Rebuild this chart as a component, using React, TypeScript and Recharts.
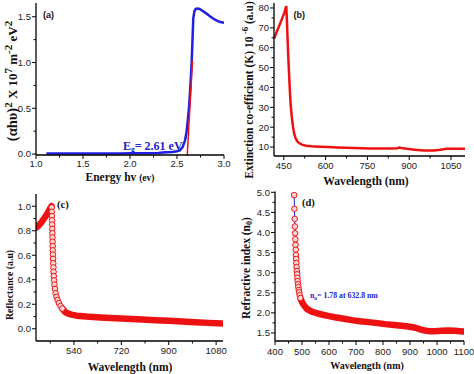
import React from 'react';
import { LineChart, Line, XAxis, YAxis } from 'recharts';

const RED = '#ee1111';
const BLUE = '#1f1fe6';
const NOTE = '#2424cc';
const SANS = '"Liberation Sans", Arial, sans-serif';
const SERIF = '"Liberation Serif", "Times New Roman", serif';

// (a) Tauc plot
const aEnergy = [1.11, 1.2, 1.3, 1.4, 1.5, 1.6, 1.7, 1.8, 1.9, 2.0, 2.1, 2.2, 2.3, 2.35, 2.4, 2.45, 2.5, 2.53, 2.56, 2.585, 2.6, 2.615, 2.627, 2.64, 2.656, 2.665, 2.673, 2.685, 2.7, 2.72, 2.74, 2.77, 2.8, 2.85, 2.9, 2.95, 3.0];
const aAbs = [0.006, 0.006, 0.006, 0.006, 0.006, 0.006, 0.006, 0.007, 0.007, 0.008, 0.009, 0.01, 0.012, 0.016, 0.02, 0.024, 0.03, 0.04, 0.075, 0.15, 0.23, 0.37, 0.5, 0.7, 1.0, 1.25, 1.48, 1.56, 1.585, 1.59, 1.585, 1.565, 1.545, 1.505, 1.47, 1.445, 1.435];
const aFitEnergy = [2.609, 2.665];
const aFitAbs = [-0.01, 1.02];
const aXTicks = [1, 1.25, 1.5, 1.75, 2, 2.25, 2.5, 2.75, 3];
const aXMajor = [1, 1.5, 2, 2.5, 3];
const aYTicks = [0, 0.25, 0.5, 0.75, 1, 1.25, 1.5];
const aYMajor = [0, 0.5, 1, 1.5];

// (b) extinction coefficient
const bWave = [415, 425, 435, 445, 452, 456, 459, 461, 463, 466, 469, 472, 475, 479, 483, 487, 492, 498, 505, 515, 530, 550, 581, 610, 641, 700, 760, 800, 840, 856, 864, 872, 892, 920, 952, 988, 1011, 1035, 1060, 1100];
const bExt = [64.5, 68, 71.5, 75, 77.5, 79.5, 81, 75, 67, 56, 47, 38, 31, 25, 20.5, 17, 14.5, 13, 12, 11.2, 10.7, 10.4, 10.2, 10, 9.8, 9.5, 9.3, 9.3, 9.3, 9.4, 9.8, 9.5, 9.1, 8.7, 8.3, 8.3, 8.7, 9.2, 9.2, 9.2];
const bXTicks = [450, 525, 600, 675, 750, 825, 900, 975, 1050];
const bXMajor = [450, 600, 750, 900, 1050];
const bYTicks = [10, 15, 20, 25, 30, 35, 40, 45, 50, 55, 60, 65, 70, 75, 80];
const bYMajor = [10, 20, 30, 40, 50, 60, 70, 80];

// (c) reflectance
const cRiseWave = [396, 405, 415, 425, 435, 442, 448, 452, 455];
const cRiseVal = [0.825, 0.84, 0.865, 0.895, 0.925, 0.95, 0.975, 0.99, 1.0];
const cDropWave = [455.5, 456, 456.5, 457, 457.4, 457.8, 458.2, 458.6, 459, 459.4, 459.8, 460.3, 460.8, 461.4, 462, 462.7, 463.5, 464.5, 466, 468, 470.5, 474, 478, 483, 489, 496];
const cDropVal = [0.99, 0.955, 0.92, 0.885, 0.85, 0.815, 0.78, 0.745, 0.71, 0.675, 0.64, 0.605, 0.57, 0.535, 0.5, 0.465, 0.43, 0.395, 0.36, 0.325, 0.29, 0.26, 0.235, 0.21, 0.185, 0.165];
const cTailWave = [496, 505, 515, 530, 550, 575, 600, 640, 680, 720, 760, 800, 850, 900, 950, 1000, 1050, 1106];
const cTailVal = [0.165, 0.14, 0.127, 0.115, 0.107, 0.102, 0.097, 0.092, 0.087, 0.083, 0.079, 0.075, 0.07, 0.065, 0.059, 0.054, 0.048, 0.043];
const cXTicks = [450, 540, 630, 720, 810, 900, 990, 1080];
const cXMajor = [540, 720, 900, 1080];
const cYTicks = [0, 0.1, 0.2, 0.3, 0.4, 0.5, 0.6, 0.7, 0.8, 0.9, 1.0];
const cYMajor = [0, 0.2, 0.4, 0.6, 0.8, 1.0];

// (d) refractive index
const dDropWave = [471, 472, 473, 473.8, 474.5, 475.2, 476, 476.8, 477.6, 478.4, 479.2, 480, 481, 482, 483, 484, 485.2, 486.5, 488, 489.5, 491.5, 494];
const dDropVal = [4.93, 4.59, 4.34, 4.15, 3.98, 3.83, 3.69, 3.57, 3.44, 3.34, 3.24, 3.14, 3.04, 2.96, 2.87, 2.79, 2.71, 2.64, 2.57, 2.51, 2.44, 2.37];
const dTailWave = [494, 500, 506, 518, 536, 555, 573, 600, 622, 650, 684, 715, 746, 780, 808, 840, 870, 900, 920, 938, 955, 970, 990, 1018, 1040, 1067, 1085, 1100];
const dTailVal = [2.37, 2.27, 2.2, 2.1, 2.03, 1.99, 1.96, 1.92, 1.89, 1.86, 1.82, 1.79, 1.77, 1.745, 1.72, 1.7, 1.68, 1.655, 1.63, 1.59, 1.56, 1.545, 1.545, 1.555, 1.56, 1.555, 1.545, 1.535];
const dXTicks = [400, 450, 500, 550, 600, 650, 700, 750, 800, 850, 900, 950, 1000, 1050, 1100];
const dXMajor = [400, 500, 600, 700, 800, 900, 1000, 1100];
const dYTicks = [1.5, 1.75, 2, 2.25, 2.5, 2.75, 3, 3.25, 3.5, 3.75, 4, 4.25, 4.5, 4.75, 5];
const dYMajor = [1.5, 2, 2.5, 3, 3.5, 4, 4.5, 5];

const pts = (xs: number[], ys: number[]) => xs.map((x, i) => ({ x, y: ys[i] }));

const aCurve = pts(aEnergy, aAbs);
const aFit = pts(aFitEnergy, aFitAbs);
const bCurve = pts(bWave, bExt);
const cRise = pts(cRiseWave, cRiseVal);
const cDrop = pts(cDropWave, cDropVal);
const cTail = pts(cTailWave, cTailVal);
const dDrop = pts(dDropWave, dDropVal);
const dTail = pts(dTailWave, dTailVal);

const isIn = (v: number, list: number[]) => list.some((m) => Math.abs(m - v) < 1e-6);
const fix1 = (v: number) => v.toFixed(1);
const int = (v: number) => String(v);

function BottomTick(props: any) {
  const { x, y, payload, majors, fmt, gap } = props;
  const major = isIn(payload.value, majors);
  return (
    <g>
      <line x1={x} x2={x} y1={y} y2={y + (major ? 4 : 2.5)} stroke="#000" strokeWidth={1} />
      {major && (
        <text x={x} y={y + gap} textAnchor="middle" fontFamily={SANS} fontSize={9.5} fill="#222">
          {fmt(payload.value)}
        </text>
      )}
    </g>
  );
}

function LeftTick(props: any) {
  const { x, y, payload, majors, fmt } = props;
  const major = isIn(payload.value, majors);
  return (
    <g>
      <line x1={x} x2={x - (major ? 4 : 2.5)} y1={y} y2={y} stroke="#000" strokeWidth={1} />
      {major && (
        <text x={x - 5} y={y + 3.4} textAnchor="end" fontFamily={SANS} fontSize={9.5} fill="#222">
          {fmt(payload.value)}
        </text>
      )}
    </g>
  );
}

const axisStyle = { stroke: '#000', strokeWidth: 1.3 };
const W = 237;
const H = 187;

function Panel(props: any) {
  const { left, top, plot, xDomain, yDomain, xTicks, xMajor, yTicks, yMajor, xFmt, yFmt, xGap, children } = props;
  return (
    <div style={{ position: 'absolute', left, top, width: W, height: H }}>
      <LineChart width={W} height={H} margin={{ top: plot.t, right: W - plot.r, bottom: 0, left: 0 }}>
        <XAxis
          dataKey="x"
          type="number"
          domain={xDomain}
          allowDataOverflow
          ticks={xTicks}
          interval={0}
          tickLine={false}
          tickSize={0}
          tickMargin={0}
          height={H - plot.b}
          axisLine={axisStyle}
          tick={(p: any) => <BottomTick {...p} majors={xMajor} fmt={xFmt} gap={xGap} />}
        />
        <XAxis xAxisId="top" orientation="top" type="number" domain={xDomain} height={0} tick={false} tickLine={false} axisLine={axisStyle} />
        <YAxis
          type="number"
          domain={yDomain}
          allowDataOverflow
          ticks={yTicks}
          interval={0}
          tickLine={false}
          tickSize={0}
          tickMargin={0}
          width={plot.l}
          axisLine={axisStyle}
          tick={(p: any) => <LeftTick {...p} majors={yMajor} fmt={yFmt} />}
        />
        <YAxis yAxisId="right" orientation="right" type="number" domain={yDomain} width={0} tick={false} tickLine={false} axisLine={axisStyle} />
        {children}
      </LineChart>
    </div>
  );
}

const markerDot = { r: 2.8, stroke: RED, strokeWidth: 1, fill: '#ffd6d6' };

export default function App() {
  return (
    <div style={{ position: 'absolute', left: 0, top: 0, width: 474, height: 374, background: '#fff' }}>
      <Panel
        left={0}
        top={0}
        plot={{ l: 36, r: 224, t: 3, b: 155 }}
        xDomain={[1, 3]}
        yDomain={[-0.01, 1.65]}
        xTicks={aXTicks}
        xMajor={aXMajor}
        yTicks={aYTicks}
        yMajor={aYMajor}
        xFmt={fix1}
        yFmt={fix1}
        xGap={11.7}
      >
        <Line data={aCurve} dataKey="y" type="linear" stroke={BLUE} strokeWidth={2.5} dot={false} isAnimationActive={false} />
        <Line data={aFit} dataKey="y" type="linear" stroke={RED} strokeWidth={1.5} dot={false} isAnimationActive={false} />
      </Panel>

      <Panel
        left={237}
        top={0}
        plot={{ l: 37, r: 228, t: 3, b: 156 }}
        xDomain={[415, 1100]}
        yDomain={[5.5, 82.5]}
        xTicks={bXTicks}
        xMajor={bXMajor}
        yTicks={bYTicks}
        yMajor={bYMajor}
        xFmt={int}
        yFmt={int}
        xGap={12.7}
      >
        <Line data={bCurve} dataKey="y" type="linear" stroke={RED} strokeWidth={2.5} dot={false} isAnimationActive={false} />
      </Panel>

      <Panel
        left={0}
        top={187}
        plot={{ l: 36, r: 223, t: 7, b: 154 }}
        xDomain={[396, 1106]}
        yDomain={[-0.1, 1.1]}
        xTicks={cXTicks}
        xMajor={cXMajor}
        yTicks={cYTicks}
        yMajor={cYMajor}
        xFmt={int}
        yFmt={fix1}
        xGap={12.8}
      >
        <Line data={cRise} dataKey="y" type="linear" stroke={RED} strokeWidth={6.5} strokeLinecap="round" strokeLinejoin="round" dot={false} isAnimationActive={false} />
        <Line data={cTail} dataKey="y" type="linear" stroke={RED} strokeWidth={6.5} strokeLinecap="round" strokeLinejoin="round" dot={false} isAnimationActive={false} />
        <Line data={cDrop} dataKey="y" type="linear" stroke={BLUE} strokeWidth={1} dot={markerDot} isAnimationActive={false} />
      </Panel>

      <Panel
        left={237}
        top={187}
        plot={{ l: 38, r: 227, t: 4.5, b: 154 }}
        xDomain={[400, 1100]}
        yDomain={[1.3, 5.02]}
        xTicks={dXTicks}
        xMajor={dXMajor}
        yTicks={dYTicks}
        yMajor={dYMajor}
        xFmt={int}
        yFmt={fix1}
        xGap={14.4}
      >
        <Line data={dTail} dataKey="y" type="linear" stroke={RED} strokeWidth={6.5} strokeLinecap="round" strokeLinejoin="round" dot={false} isAnimationActive={false} />
        <Line data={dDrop} dataKey="y" type="linear" stroke={BLUE} strokeWidth={1} dot={markerDot} isAnimationActive={false} />
      </Panel>

      <svg width={474} height={374} style={{ position: 'absolute', left: 0, top: 0, pointerEvents: 'none' }}>
        {/* panel letters */}
        <text x={43} y={18} fontFamily={SANS} fontWeight="bold" fontSize={9} fill="#111">(a)</text>
        <text x={293.5} y={18} fontFamily={SANS} fontWeight="bold" fontSize={9} fill="#111">(b)</text>
        <text x={57} y={208} fontFamily={SERIF} fontWeight="bold" fontSize={10.5} fill="#111">(c)</text>
        <text x={302} y={205.5} fontFamily={SERIF} fontWeight="bold" fontSize={10.5} fill="#111">(d)</text>

        {/* annotations */}
        <text x={123} y={149.5} fontFamily={SERIF} fontWeight="bold" fontSize={12} fill={NOTE}>
          E<tspan fontSize={7.5} dy={2.5}>g</tspan>
          <tspan dy={-2.5}>= 2.61 eV</tspan>
        </text>
        <text x={310} y={298} fontFamily={SERIF} fontWeight="bold" fontSize={7.8} fill={NOTE}>
          n<tspan fontSize={5.5} dy={1.5}>o</tspan>
          <tspan dy={-1.5}>= 1.78 at 632.8 nm</tspan>
        </text>

        {/* axis titles (a) */}
        <text transform="translate(17,81) rotate(-90)" textAnchor="middle" fontFamily={SERIF} fontWeight="bold" fontSize={13} fill="#111">
          <tspan fontSize={14.5}>(αhυ)</tspan>
          <tspan dy={-5} fontSize={11}>2</tspan>
          <tspan dy={5}> X 10</tspan>
          <tspan dy={-5} fontSize={11}>7</tspan>
          <tspan dy={5}> m</tspan>
          <tspan dy={-5} fontSize={11}>-2</tspan>
          <tspan dy={5}> eV</tspan>
          <tspan dy={-5} fontSize={11}>2</tspan>
        </text>
        <text x={120} y={181} textAnchor="middle" fontFamily={SERIF} fontWeight="bold" fontSize={11.5} fill="#111">
          Energy hv <tspan fontSize={9.5}>(ev)</tspan>
        </text>

        {/* axis titles (b) */}
        <text transform="translate(253,90) rotate(-90)" textAnchor="middle" fontFamily={SERIF} fontWeight="bold" fontSize={11.5} fill="#111">
          Extinction co-efficient (K) 10<tspan dy={-5} fontSize={9}> -6</tspan>
          <tspan dy={5}> (a.u)</tspan>
        </text>
        <text x={366} y={185} textAnchor="middle" fontFamily={SERIF} fontWeight="bold" fontSize={11.6} fill="#111">
          Wavelength (nm)
        </text>

        {/* axis titles (c) */}
        <text transform="translate(13,285) rotate(-90)" textAnchor="middle" fontFamily={SERIF} fontWeight="bold" fontSize={9.8} fill="#111">
          Reflectance (a.u)
        </text>
        <text x={130} y={370.5} textAnchor="middle" fontFamily={SERIF} fontWeight="bold" fontSize={11.5} fill="#111">
          Wavelength (nm)
        </text>

        {/* axis titles (d) */}
        <text transform="translate(249.5,268) rotate(-90)" textAnchor="middle" fontFamily={SERIF} fontWeight="bold" fontSize={11.5} fill="#111">
          Refractive index (n<tspan dy={2.5} fontSize={8}>0</tspan>
          <tspan dy={-2.5}>)</tspan>
        </text>
        <text x={367} y={369} textAnchor="middle" fontFamily={SERIF} fontWeight="bold" fontSize={10} fill="#111">
          Wavelength (nm)
        </text>
      </svg>
    </div>
  );
}
